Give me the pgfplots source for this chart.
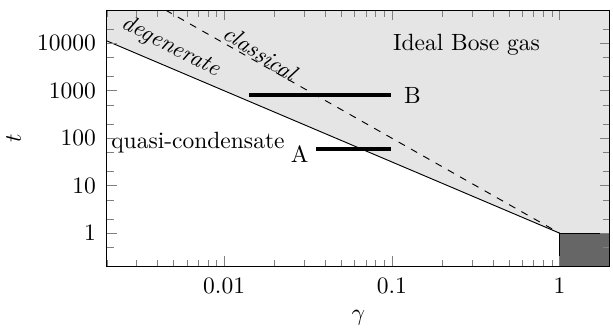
\documentclass[border=0pt]{standalone}
\usepackage{pgfplots}
\pgfplotsset{compat=1.18}
\begin{document}
\begin{tikzpicture}
\begin{axis}[
  xmode=log, ymode=log,
  scale only axis, width=214pt, height=109pt,
  xmin=0.002, xmax=2, ymin=0.2, ymax=50000,
  xtick={0.01,0.1,1}, xticklabels={0.01,0.1,1},
  ytick={1,10,100,1000,10000}, yticklabels={1,10,100,1000,10000},
  minor xtick={0.002,0.003,0.004,0.005,0.006,0.007,0.008,0.009,0.02,0.03,0.04,0.05,0.06,0.07,0.08,0.09,0.2,0.3,0.4,0.5,0.6,0.7,0.8,0.9},
  minor ytick={0.5,2,5,20,50,200,500,2000,5000,20000},
  xticklabel style={yshift=-1.5pt},
  yticklabel style={xshift=-1.2pt},
  xlabel={$\gamma$}, ylabel={$t$},
  axis on top,
]
\coordinate (SW) at (rel axis cs:0,0);
\coordinate (NE) at (rel axis cs:1,1);
% light grey region (non-degenerate gas)
\addplot[fill=black!10, draw=none] coordinates {(0.002,11180.3) (1,1) (2,1) (2,50000) (0.002,50000)} -- cycle;
% strongly interacting corner
\addplot[fill=black!60, draw=black] coordinates {(1,0.2) (1,1) (2,1) (2,0.2)} -- cycle;
% degeneracy line t = gamma^(-3/2)
\addplot[black, thin] coordinates {(0.002,11180.3) (1,1)};
% classical line t = gamma^(-2)
\addplot[black, thin, dashed] coordinates {(0.004472,50000) (1,1)};
% experimental ranges
\addplot[black, line width=1.5pt] coordinates {(0.0141,810) (0.0992,810)};
\addplot[black, line width=1.5pt] coordinates {(0.0354,59) (0.0992,59)};
\node[rotate=-27] at (axis cs:0.00481,8480) {\textit{degenerate}};
\node[rotate=-33] at (axis cs:0.01656,6160) {\textit{classical}};
\node at (axis cs:0.279,9200) {Ideal Bose gas};
\node at (axis cs:0.133,810) {B};
\node at (axis cs:0.0282,46) {A};
\node[anchor=west, inner sep=0pt] at (axis cs:0.00211,82) {quasi-condensate};
\end{axis}
\pgfresetboundingbox
\path[use as bounding box] ([xshift=-45.5pt,yshift=-26.5pt]SW) rectangle ([xshift=1.3pt,yshift=4.3pt]NE);
\end{tikzpicture}
\end{document}
